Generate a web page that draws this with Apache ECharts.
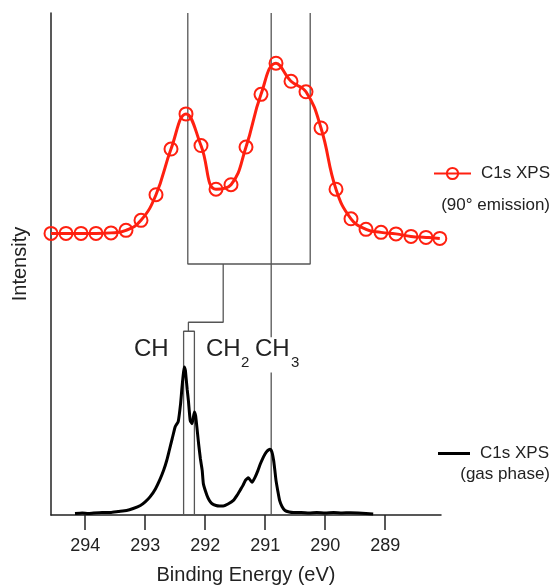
<!DOCTYPE html>
<html>
<head>
<meta charset="utf-8">
<script src="https://cdn.jsdelivr.net/npm/echarts@6/dist/echarts.min.js"></script>
<style>
  html, body { margin: 0; padding: 0; background: #fff; }
  #chart { width: 552px; height: 588px; }
</style>
</head>
<body>
<div id="chart"></div>
<script>
// ── 90° emission (fit points) ──
const redEnergy = [294.57, 294.32, 294.07, 293.82, 293.57, 293.32, 293.07, 292.82, 292.57,
  292.32, 292.07, 291.82, 291.57, 291.32, 291.07, 290.82, 290.57, 290.32, 290.07,
  289.82, 289.57, 289.32, 289.07, 288.82, 288.57, 288.32, 288.09];
const redIntensity = [56.1, 56.1, 56.1, 56.1, 56.2, 56.7, 58.7, 63.8, 72.9,
  79.9, 73.6, 64.9, 65.8, 73.3, 83.8, 90.0, 86.4, 84.3, 77.1,
  64.9, 59.0, 56.9, 56.3, 56.0, 55.5, 55.3, 55.1];

// ── gas phase spectrum ──
const gasEnergy = [
  294.17, 294.05, 293.95, 293.86, 293.72, 293.58, 293.45, 293.31, 293.20, 293.08,
  293.00, 292.92, 292.83, 292.75, 292.69, 292.64, 292.60, 292.55, 292.50, 292.45,
  292.41, 292.39, 292.37, 292.35, 292.33, 292.32, 292.30, 292.28, 292.25, 292.22,
  292.20, 292.18, 292.16, 292.15, 292.13, 292.11, 292.08, 292.05, 292.03, 291.97,
  291.93, 291.89, 291.82, 291.76, 291.70, 291.62, 291.53, 291.47, 291.42, 291.37,
  291.33, 291.28, 291.22, 291.17, 291.12, 291.08, 291.04, 291.00, 290.97, 290.94,
  290.92, 290.90, 290.88, 290.86, 290.84, 290.82, 290.79, 290.76, 290.72, 290.67,
  290.60, 290.53, 290.40, 290.27, 290.14, 290.00, 289.86, 289.72, 289.58, 289.45,
  289.32, 289.20];
const gasIntensity = [
  0.3, 0.4, 0.3, 0.4, 0.5, 0.5, 0.7, 0.9, 1.3, 1.9,
  2.6, 3.6, 5.2, 7.2, 9.0, 10.9, 12.8, 15.2, 17.6, 18.6,
  22.2, 25.0, 27.5, 29.5, 28.8, 27.5, 25.0, 22.8, 18.8, 18.2,
  19.3, 20.5, 19.8, 18.8, 16.5, 14.2, 11.2, 8.9, 6.2, 3.9,
  2.9, 2.3, 1.9, 1.8, 1.8, 2.2, 2.9, 3.9, 4.9, 5.9,
  6.9, 7.4, 6.5, 7.5, 8.9, 10.2, 11.3, 12.2, 12.7, 13.0,
  13.1, 12.9, 12.2, 10.9, 9.0, 6.9, 4.8, 2.9, 1.7, 0.9,
  0.6, 0.5, 0.5, 0.4, 0.5, 0.4, 0.5, 0.4, 0.45, 0.4,
  0.3, 0.2];

// ── assignment guide lines [energy, intensity] ──
const bracketLine = [[292.29, 100], [292.29, 50], [290.25, 50], [290.25, 100]];
const stemLine = [[291.70, 50], [291.70, 38.4], [292.28, 38.4], [292.28, 36.6]];
const boxLine = [[292.36, 0], [292.36, 36.6], [292.18, 36.6], [292.18, 0]];
const ch3LineUpper = [[290.90, 100], [290.90, 35.4]];
const ch3LineLower = [[290.90, 28.4], [290.90, 0]];

const xTicks = [289, 290, 291, 292, 293, 294];

const FONT = "Liberation Sans";
const TXT = "#222";
const RED = "#ff2010";
const GUIDE = "#555";

const zip = (xs, ys) => xs.map((x, i) => [x, ys[i]]);

function guide(data){
  return {
    type: "line", data, silent: true, symbol: "none", z: 1,
    lineStyle: { color: GUIDE, width: 1.3 }, animation: false
  };
}

const chart = echarts.init(document.getElementById("chart"));

chart.setOption({
  animation: false,
  grid: { left: 51, right: 111, top: 13, bottom: 73, outerBoundsMode: "none" },
  xAxis: {
    type: "value", inverse: true, min: 288.07, max: 294.57,
    name: "Binding Energy (eV)", nameLocation: "middle", nameGap: 50,
    nameTextStyle: { fontFamily: FONT, fontSize: 20, color: TXT },
    splitLine: { show: false },
    axisLine: { onZero: false, lineStyle: { color: "#222", width: 1.5 } },
    axisTick: { customValues: xTicks, length: 15, lineStyle: { color: "#222", width: 1.5 } },
    axisLabel: { customValues: xTicks, margin: 22, fontFamily: FONT, fontSize: 18, color: TXT }
  },
  yAxis: {
    type: "value", min: 0, max: 100,
    name: "Intensity", nameLocation: "middle", nameGap: 21,
    nameTextStyle: { fontFamily: FONT, fontSize: 20, color: TXT },
    splitLine: { show: false },
    axisTick: { show: false },
    axisLabel: { show: false },
    axisLine: { show: true, lineStyle: { color: "#222", width: 1.5 } }
  },
  legend: [
    {
      data: ["C1s XPS (90° emission)"], left: 433, top: 165, padding: 0,
      itemWidth: 37, itemHeight: 14, formatter: () => "C1s XPS",
      textStyle: { fontFamily: FONT, fontSize: 17, color: TXT, padding: [0, 0, 0, 5] }
    },
    {
      data: [{ name: "C1s XPS (gas phase)", icon: "rect" }], left: 438, top: 445, padding: 0,
      itemWidth: 32, itemHeight: 3, formatter: () => "C1s XPS",
      textStyle: { fontFamily: FONT, fontSize: 17, color: TXT, padding: [0, 0, 0, 5] }
    }
  ],
  graphic: [
    { type: "text", x: 550, y: 205, style: { text: "(90° emission)", align: "right", verticalAlign: "middle", font: `17px ${FONT}`, fill: TXT } },
    { type: "text", x: 550, y: 474, style: { text: "(gas phase)", align: "right", verticalAlign: "middle", font: `17px ${FONT}`, fill: TXT } },
    { type: "text", x: 134, y: 349, style: { text: "CH", verticalAlign: "middle", font: `24px ${FONT}`, fill: TXT } },
    { type: "text", x: 206, y: 349, style: { text: "CH", verticalAlign: "middle", font: `24px ${FONT}`, fill: TXT } },
    { type: "text", x: 241, y: 363, style: { text: "2", verticalAlign: "middle", font: `15px ${FONT}`, fill: TXT } },
    { type: "text", x: 255, y: 349, style: { text: "CH", verticalAlign: "middle", font: `24px ${FONT}`, fill: TXT } },
    { type: "text", x: 291, y: 363, style: { text: "3", verticalAlign: "middle", font: `15px ${FONT}`, fill: TXT } }
  ],
  series: [
    guide(bracketLine),
    guide(stemLine),
    guide(boxLine),
    guide(ch3LineUpper),
    guide(ch3LineLower),
    {
      name: "C1s XPS (gas phase)", type: "line", data: zip(gasEnergy, gasIntensity),
      symbol: "none", smooth: 0.15, z: 3,
      itemStyle: { color: "#000" },
      lineStyle: { color: "#000", width: 3 }
    },
    {
      name: "C1s XPS (90° emission)", type: "line", data: zip(redEnergy, redIntensity),
      smooth: 0.45, clip: false, z: 4,
      symbol: "circle", symbolSize: 13,
      itemStyle: { color: "rgba(255,255,255,0)", borderColor: RED, borderWidth: 2 },
      lineStyle: { color: RED, width: 3 }
    }
  ]
});
</script>
</body>
</html>
